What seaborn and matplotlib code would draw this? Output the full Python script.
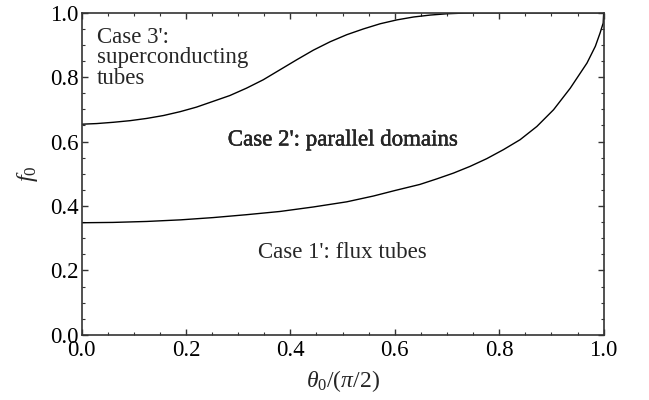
import numpy as np
import pandas as pd
import seaborn as sns
import matplotlib.pyplot as plt
from matplotlib.ticker import MultipleLocator
import matplotlib.patheffects as pe

# Boundary between Case 3' and Case 2'
upper_theta = [0.0, 0.029, 0.061, 0.093, 0.125, 0.157, 0.189, 0.220, 0.252,
               0.284, 0.316, 0.348, 0.380, 0.412, 0.444, 0.476, 0.508, 0.540,
               0.572, 0.604, 0.636, 0.668, 0.700, 0.731, 0.763, 0.80, 0.90, 1.0]
upper_f0 = [0.654, 0.656, 0.660, 0.665, 0.672, 0.681, 0.693, 0.707, 0.725,
            0.743, 0.766, 0.792, 0.823, 0.854, 0.884, 0.910, 0.932, 0.950,
            0.966, 0.978, 0.987, 0.993, 0.997, 0.999, 1.0, 1.0, 1.0, 1.0]

# Boundary between Case 2' and Case 1'
lower_theta = [0.0, 0.060, 0.125, 0.190, 0.252, 0.316, 0.380, 0.444, 0.508,
               0.559, 0.600, 0.648, 0.680, 0.712, 0.744, 0.776, 0.808, 0.840,
               0.872, 0.904, 0.936, 0.968, 0.984, 0.993, 0.999, 1.0]
lower_f0 = [0.348, 0.349, 0.352, 0.357, 0.364, 0.373, 0.383, 0.397, 0.413,
            0.431, 0.448, 0.467, 0.484, 0.502, 0.523, 0.547, 0.575, 0.606,
            0.647, 0.699, 0.766, 0.844, 0.896, 0.937, 0.968, 1.0]

x_ticks = [0.0, 0.2, 0.4, 0.6, 0.8, 1.0]
y_ticks = [0.0, 0.2, 0.4, 0.6, 0.8, 1.0]

sns.set_theme(style="ticks")
plt.rcParams['font.family'] = ['Liberation Serif', 'DejaVu Serif']
plt.rcParams['mathtext.fontset'] = 'custom'
plt.rcParams['mathtext.rm'] = 'Liberation Serif'
plt.rcParams['mathtext.it'] = 'Liberation Serif:italic'

fig = plt.figure(figsize=(6.49, 4.0), dpi=100)
ax = fig.add_axes([0.1256, 0.163, 0.8046, 0.805])

upper = pd.DataFrame({"theta": upper_theta, "f0": upper_f0})
lower = pd.DataFrame({"theta": lower_theta, "f0": lower_f0})
sns.lineplot(data=upper, x="theta", y="f0", ax=ax, color="black", lw=1.0)
sns.lineplot(data=lower, x="theta", y="f0", ax=ax, color="black", lw=1.0)

ax.set_xlim(0, 1)
ax.set_ylim(0, 1)
ax.set_xticks(x_ticks)
ax.set_yticks(y_ticks)
ax.set_xticklabels([f"{v:.1f}" for v in x_ticks])
ax.set_yticklabels([f"{v:.1f}" for v in y_ticks])
ax.xaxis.set_minor_locator(MultipleLocator(0.05))
ax.yaxis.set_minor_locator(MultipleLocator(0.05))
ax.tick_params(which="both", direction="in", top=True, right=True,
               color="#333333", labelsize=16.5, labelcolor="black")
ax.tick_params(axis="x", which="major", pad=4)
ax.tick_params(axis="y", which="major", pad=2)
ax.tick_params(which="major", length=4, width=1.0)
ax.tick_params(which="minor", length=2.2, width=0.8)
for s in ax.spines.values():
    s.set_color("#333333")
    s.set_linewidth(1.2)

ax.set_xlabel(r"$\theta_{\mathit{0}}$/($\pi$/2)", fontsize=17, labelpad=5)
ax.set_ylabel(r"$f_{\mathit{0}}$", fontsize=17.5, labelpad=7)

ax.text(0.03, 0.955, "Case 3':\nsuperconducting\ntubes", fontsize=16.5,
        ha="left", va="top", linespacing=0.95)
ax.text(0.5, 0.605, "Case 2': parallel domains", fontsize=16.5,
        ha="center", va="center",
        path_effects=[pe.withStroke(linewidth=0.3, foreground="black")])
ax.text(0.5, 0.255, "Case 1': flux tubes", fontsize=16.5,
        ha="center", va="center")

fig.savefig("out.png", dpi=100)
